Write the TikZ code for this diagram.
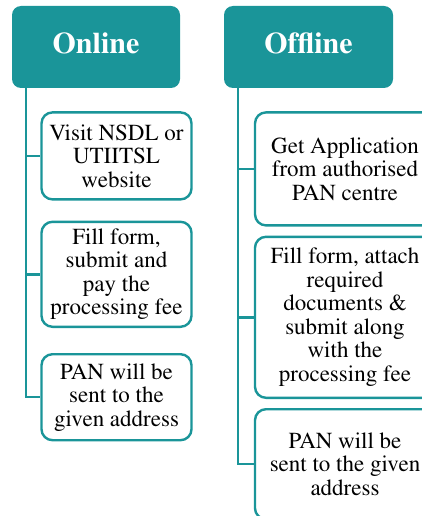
\documentclass[tikz,border=0pt]{standalone}
\usepackage[T1]{fontenc}
\usepackage{times}
\usepackage{tikz}
\usetikzlibrary{positioning}
\definecolor{panteal}{RGB}{26,149,153}
\tikzstyle{header} = [rectangle, fill=panteal, text=white, font=\fontsize{30}{32}\selectfont\bfseries, rounded corners=9pt, minimum width=168pt, minimum height=82pt, text depth=8.5pt]
\tikzstyle{stepbox} = [rectangle, draw=panteal, line width=2.4pt, fill=white, font=\fontsize{23}{23.5}\selectfont, align=center, rounded corners=11pt, inner sep=0pt]
\tikzstyle{line} = [draw=panteal, line width=2.4pt]

\begin{document}
\begin{tikzpicture}[x=1pt, y=1pt, node distance=20pt]
            \useasboundingbox (0,0) rectangle (422,-516);
            \clip (0,0) rectangle (422,-516);
            % Place nodes
            \node [header] (on) at (96,-47) {Online};
            \node [stepbox, minimum width=150pt, minimum height=87pt, below=23pt of on, xshift=20.5pt] (on1) {Visit NSDL or\\UTIITSL\\website};
            \node [stepbox, minimum width=150pt, minimum height=105pt, below=of on1] (on2) {Fill form,\\submit and\\pay the\\processing fee};
            \node [stepbox, minimum width=150pt, minimum height=86pt, below=25pt of on2] (on3) {PAN will be\\sent to the\\given address};
            \node [header, minimum width=169pt] (off) at (308.5,-47) {Offline};
            \node [stepbox, minimum width=180pt, minimum height=113pt, below=23pt of off, xshift=36.5pt] (off1) {Get Application\\from authorised\\PAN centre};
            \node [stepbox, minimum width=180pt, minimum height=161pt, below=9pt of off1] (off2) {Fill form, attach\\required\\documents \&\\submit along\\with the\\processing fee};
            \node [stepbox, minimum width=180pt, minimum height=110pt, below=9pt of off2] (off3) {PAN will be\\sent to the given\\address};
            \coordinate (onspine) at ([xshift=14pt]on.south west);
            \coordinate (offspine) at ([xshift=14pt]off.south west);
            % Draw edges
            \path [line] (onspine) |- (on1.west);
            \path [line] (onspine) |- (on2.west);
            \path [line] (onspine) |- (on3.west);
            \path [line] (offspine) |- (off1.west);
            \path [line] (offspine) |- (off2.west);
            \path [line] (offspine) |- (off3.west);
          \end{tikzpicture}
\end{document}
